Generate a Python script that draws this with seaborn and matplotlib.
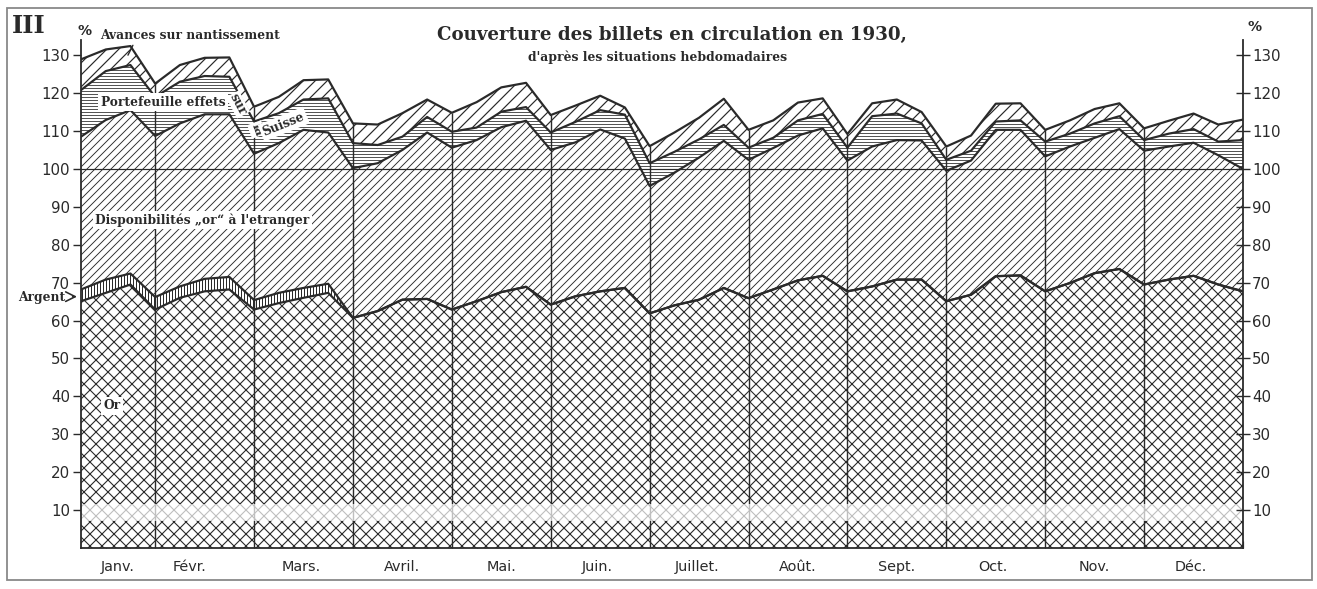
import numpy as np
import pandas as pd
import matplotlib
matplotlib.use("Agg")
import matplotlib.pyplot as plt
import seaborn as sns
from matplotlib.patches import Rectangle

# ---------------- data (weekly situations, % of notes in circulation, cumulative levels) -------------
weeks = list(range(48))
months = ["Janv.", "Févr.", "Mars.", "Avril.", "Mai.", "Juin.", "Juillet.",
          "Août.", "Sept.", "Oct.", "Nov.", "Déc."]
month_label_pos = [1.5, 4.4, 8.9, 13.0, 17.0, 20.9, 24.9, 29.0, 33.0, 36.9, 41.0, 44.9]
month_ends = [3, 7, 11, 15, 19, 23, 27, 31, 35, 39, 43]
yticks = [10, 20, 30, 40, 50, 60, 70, 80, 90, 100, 110, 120, 130]

or_top = [65.1, 67.3, 69.5, 62.9, 66.0, 67.7, 68.2, 62.9, 64.6, 66.0, 67.3, 60.7,
          62.5, 65.5, 65.7, 62.9, 65.1, 67.5, 68.9, 64.2, 66.4, 67.7, 68.6, 61.9,
          64.0, 65.5, 68.6, 65.9, 68.2, 70.6, 71.8, 67.7, 69.0, 70.8, 70.8, 65.1,
          66.8, 71.7, 71.9, 67.7, 69.9, 72.5, 73.6, 69.5, 70.8, 71.8, 69.5, 67.7]
argent_top = [68.2, 70.8, 72.4, 66.2, 69.0, 71.0, 71.5, 65.4, 67.3, 68.6, 69.7, 60.7,
              62.5, 65.5, 65.7, 62.9, 65.1, 67.5, 68.9, 64.2, 66.4, 67.7, 68.6, 61.9,
              64.0, 65.5, 68.6, 65.9, 68.2, 70.6, 71.8, 67.7, 69.0, 70.8, 70.8, 65.1,
              66.8, 71.7, 71.9, 67.7, 69.9, 72.5, 73.6, 69.5, 70.8, 71.8, 69.5, 67.7]
dispon_top = [108.5, 112.9, 115.5, 108.7, 112.0, 114.4, 114.4, 104.0, 106.8, 110.3, 109.6, 100.2,
              101.5, 105.0, 109.6, 105.6, 107.6, 111.0, 112.7, 105.0, 107.0, 110.4, 108.0, 95.5,
              99.0, 103.0, 107.4, 102.4, 105.5, 108.8, 110.7, 102.2, 105.9, 107.6, 107.5, 99.5,
              102.2, 110.3, 110.3, 103.3, 105.9, 108.2, 110.5, 104.8, 105.9, 106.9, 103.6, 100.0]
portef_top = [120.8, 125.8, 127.4, 119.0, 123.0, 124.5, 124.3, 112.5, 114.7, 118.3, 118.6, 106.8,
              106.3, 108.5, 113.7, 109.8, 110.9, 115.1, 116.3, 109.6, 112.4, 115.5, 114.3, 101.5,
              104.5, 107.8, 111.6, 105.6, 108.2, 112.8, 114.5, 105.6, 113.9, 114.6, 112.0, 102.4,
              104.8, 112.5, 112.8, 107.2, 109.3, 112.0, 113.9, 107.6, 109.3, 110.5, 107.2, 107.6]
avances_top = [128.9, 131.5, 132.4, 122.5, 127.4, 129.3, 129.4, 116.4, 119.0, 123.4, 123.6, 112.0,
               111.7, 114.7, 118.3, 114.8, 117.6, 121.5, 122.7, 114.2, 116.7, 119.3, 116.2, 106.0,
               109.6, 113.5, 118.5, 110.3, 112.8, 117.5, 118.6, 109.2, 117.3, 118.3, 115.0, 105.9,
               108.8, 117.2, 117.3, 110.3, 112.8, 115.8, 117.3, 110.7, 112.7, 114.6, 111.7, 113.0]

# ---------------- style -------------
sns.set_theme(style="white")
plt.rcParams['font.family'] = ['DejaVu Sans']
ink = '#2a2a2a'
SERIF = 'DejaVu Serif'

DPI = 144
W, H = 1317, 589
fig = plt.figure(figsize=(W / DPI, H / DPI), dpi=DPI)
fig.patch.set_facecolor('white')
ax = fig.add_axes([81 / W, 1 - 548 / H, (1243 - 81) / W, (548 - 40) / H])
ax.set_facecolor('white')
ax.set_xlim(0, 47)
ax.set_ylim(0, 134)

x = np.array(weeks)


def band(lo, hi, hatch, hlw):
    with plt.rc_context({'hatch.linewidth': hlw}):
        ax.fill_between(x, lo, hi, facecolor='white', edgecolor=ink,
                        hatch=hatch, linewidth=0, zorder=1)


band(0, or_top, 'xxxx', 0.55)
band(or_top, argent_top, '|' * 8, 0.5)
band(argent_top, dispon_top, '/' * 6, 0.45)
band(dispon_top, portef_top, '-' * 8, 0.4)
band(portef_top, avances_top, '////', 0.6)

# boundary lines through seaborn
names = ['Or', 'Argent', 'Disponibilités', 'Portefeuille', 'Avances']
levels = [or_top, argent_top, dispon_top, portef_top, avances_top]
df = pd.DataFrame({
    'semaine': weeks * len(names),
    'niveau': sum(levels, []),
    'serie': sum([[n] * len(weeks) for n in names], []),
})
sns.lineplot(data=df, x='semaine', y='niveau', units='serie', estimator=None,
             color=ink, linewidth=1.1, legend=False, ax=ax, zorder=3)

# month separators up to the top curve
ax.vlines(month_ends, 0, [avances_top[i] for i in month_ends], color=ink, lw=0.7, zorder=2.5)
ax.axhline(100, color=ink, lw=0.6, zorder=2.6)
# faded strip of the original print
ax.axhspan(7.0, 11.5, color='white', alpha=0.7, lw=0, zorder=2.7)

# spines
for s in ['left', 'right', 'bottom']:
    ax.spines[s].set_visible(True)
    ax.spines[s].set_color(ink)
    ax.spines[s].set_linewidth(0.9)
    ax.spines[s].set_zorder(4)
ax.spines['top'].set_visible(False)

# left y axis
ax.set_yticks(yticks)
ax.set_yticklabels([str(v) for v in yticks])
ax.tick_params(axis='y', left=True, direction='out', length=4, width=0.7,
               pad=1.5, labelsize=7.5, colors=ink)
ax.set_ylabel('')
ax.set_xlabel('')

# right y axis
ax2 = ax.twinx()
ax2.set_ylim(0, 134)
ax2.set_yticks(yticks)
ax2.set_yticklabels([str(v) for v in yticks])
ax2.tick_params(axis='y', right=True, direction='inout', length=7, width=0.7,
                pad=1, labelsize=7.5, colors=ink)
for s in ax2.spines.values():
    s.set_visible(False)

# x axis
ax.set_xticks(month_label_pos)
ax.set_xticklabels(months)
ax.tick_params(axis='x', which='major', bottom=True, length=0, pad=6, labelsize=7.2, colors=ink)
ax.set_xticks(weeks, minor=True)
ax.tick_params(axis='x', which='minor', bottom=True, direction='in', length=3.5, width=0.6, color=ink)

# ---------------- texts -------------
fig.text(672 / W, 1 - 35 / H, "Couverture des billets en circulation en 1930,",
         ha='center', va='center', family=SERIF, weight='bold', size=9.1, color=ink)
fig.text(658 / W, 1 - 57 / H, "d'après les situations hebdomadaires",
         ha='center', va='center', family=SERIF, weight='bold', size=6.2, color=ink)
fig.text(12 / W, 1 - 26 / H, "III", ha='left', va='center', family=SERIF,
         weight='bold', size=12, color=ink)
fig.text(77 / W, 1 - 31 / H, "%", ha='left', va='center', size=7, color=ink, weight='bold')
fig.text(1247 / W, 1 - 27 / H, "%", ha='left', va='center', size=7, color=ink, weight='bold')

lab = dict(family=SERIF, weight='bold', size=6.1, color=ink, zorder=6)
box = dict(facecolor='white', edgecolor='none', pad=1.2)
small_box = dict(facecolor='white', edgecolor='none', pad=0.4)
ax.text(0.77, 135.3, "Avances sur nantissement", ha='left', va='center', **lab)
ax.plot([2.1, 1.9], [132.6, 130.0], color=ink, lw=0.7, clip_on=False, zorder=6)
ax.text(0.8, 117.6, "Portefeuille effets", ha='left', va='center', bbox=box, **lab)
ax.text(6.35, 117.0, "sur", ha='center', va='center', rotation=-62, bbox=small_box, **lab)
ax.text(7.1, 110.4, "la", ha='center', va='center', rotation=-70, bbox=small_box, **lab)
ax.text(8.2, 111.8, "Suisse", ha='center', va='center', rotation=22, bbox=box, **lab)
ax.text(0.57, 86.5, "Disponibilités „or“ à l'etranger", ha='left', va='center', bbox=box, **lab)
ax.text(0.9, 37.5, "Or", ha='left', va='center', bbox=box, **lab)
fig.text(18 / W, 1 - 297 / H, "Argent", ha='left', va='center', family=SERIF,
         weight='bold', size=6.1, color=ink)
ax.annotate('', xy=(0.0, 66.3), xytext=(-0.5, 66.3),
            arrowprops=dict(arrowstyle='->', lw=0.8, color=ink), annotation_clip=False)

# scan border
fig.patches.append(Rectangle((7 / W, 1 - 580 / H), 1305 / W, 572 / H, transform=fig.transFigure,
                             fill=False, edgecolor='#888888', lw=0.9))

fig.savefig("out.png", dpi=DPI, facecolor='white')
